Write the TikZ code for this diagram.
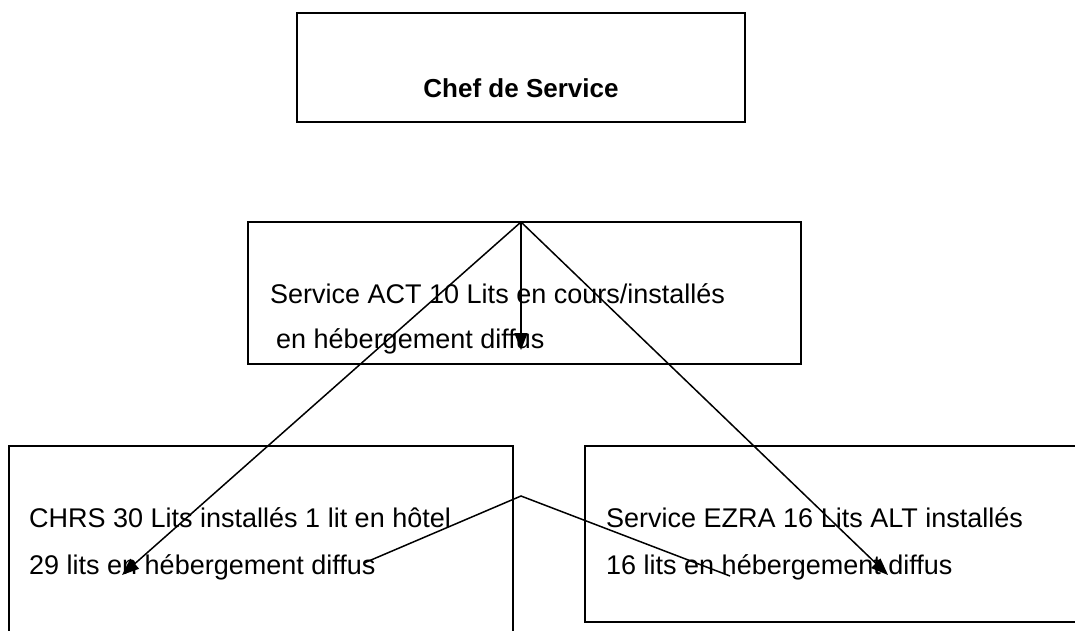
\documentclass[tikz,border=0pt]{standalone}
\usepackage{fontspec}
\setmainfont{Liberation Sans}
\usetikzlibrary{arrows.meta}
\begin{document}
\begin{tikzpicture}[x=1pt,y=-1pt,
  box/.style={draw,line width=2pt,inner sep=0pt,outer sep=0pt},
  wire/.style={line width=1.5pt},
  arr/.style={wire,-{Triangle[length=17pt,width=13pt]}},
  txt/.style={anchor=base west,inner sep=0pt,font=\fontsize{27}{32}\selectfont}]
\useasboundingbox (0,0) rectangle (1075,630);
\clip (0,0) rectangle (1075,630);

% boxes
\node[box,anchor=north west,minimum width=448pt,minimum height=109pt] (chef) at (297,13) {};
\node[box,anchor=north west,minimum width=553pt,minimum height=142pt] (act) at (248,222) {};
\node[box,anchor=north west,minimum width=504pt,minimum height=230pt] (chrs) at (9,446) {};
\node[box,anchor=north west,minimum width=520pt,minimum height=176pt] (ezra) at (585,446) {};

% labels
\node[anchor=base,inner sep=0pt,font=\bfseries\fontsize{26}{30}\selectfont] (chefl) at (521,97) {Chef de Service};
\node[txt] (act1) at (270,303) {Service ACT 10 Lits en cours/installés};
\node[txt] (act2) at (276,348) {en hébergement diffus};
\node[txt] (chrs1) at (29,527) {CHRS 30 Lits installés 1 lit en hôtel};
\node[txt] (chrs2) at (29,574) {29 lits en hébergement diffus};
\node[txt] (ezra1) at (606,527) {Service EZRA 16 Lits ALT installés};
\node[txt] (ezra2) at (606,574) {16 lits en hébergement diffus};

% connector points
\coordinate (apex) at (521,222);
\coordinate (tmid) at (521,350);
\coordinate (tleft) at (122,575);
\coordinate (tright) at (888,575);
\coordinate (p1) at (364,563);
\coordinate (p2) at (521,496);
\coordinate (p3) at (730,576);

% connectors
\draw[arr] (apex) -- (tmid);
\draw[arr] (apex) -- (tleft);
\draw[arr] (apex) -- (tright);
\draw[wire] (p1) -- (p2) -- (p3);
\end{tikzpicture}
\end{document}
